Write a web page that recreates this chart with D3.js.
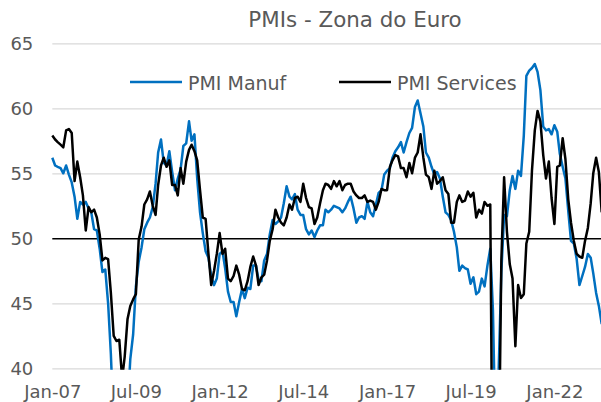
<!DOCTYPE html>
<html>
<head>
<meta charset="utf-8">
<script src="https://cdn.jsdelivr.net/npm/d3@7"></script>
<style>
  body { margin: 0; background: #fff; }
  svg { display: block; }
</style>
</head>
<body>
<div id="chart"></div>
<script>
// monthly values, Jan-2007 .. Jun-2023
const startYear = 2007
const manuf = [
    56.2, 55.6, 55.5, 55.4, 55.0, 55.6, 54.9, 54.3, 53.2, 51.5, 52.8, 52.6,
    52.8, 52.3, 52.0, 50.7, 50.6, 49.2, 47.4, 47.6, 45.0, 41.1, 35.6, 33.9,
    34.4, 33.5, 33.9, 36.8, 40.7, 42.6, 46.3, 48.2, 49.3, 50.7, 51.2, 51.6,
    52.4, 54.2, 56.6, 57.6, 55.8, 55.6, 56.7, 55.1, 53.7, 54.6, 55.3, 57.1,
    57.3, 59.0, 57.5, 58.0, 54.6, 52.0, 50.4, 49.0, 48.5, 47.1, 46.4, 46.9,
    48.8, 49.0, 47.7, 45.9, 45.1, 45.1, 44.0, 45.1, 46.1, 45.4, 46.2, 46.1,
    47.9, 47.9, 46.8, 46.7, 48.3, 48.8, 50.3, 51.4, 51.1, 51.3, 51.6, 52.7,
    54.0, 53.2, 53.0, 53.4, 52.2, 51.8, 51.8, 50.7, 50.3, 50.6, 50.1, 50.6,
    51.0, 51.0, 52.2, 52.0, 52.2, 52.5, 52.4, 52.3, 52.0, 52.3, 52.8, 53.2,
    52.3, 51.2, 51.6, 51.7, 51.5, 52.8, 52.0, 51.7, 52.6, 53.5, 53.7, 54.9,
    55.2, 55.4, 56.2, 56.7, 57.0, 57.4, 56.6, 57.4, 58.1, 58.5, 60.1, 60.6,
    59.6, 58.6, 56.6, 56.2, 55.5, 54.9, 55.1, 54.6, 53.2, 52.0, 51.8, 51.4,
    50.5, 49.3, 47.5, 47.9, 47.7, 47.6, 46.5, 47.0, 45.7, 45.9, 46.9, 46.3,
    47.9, 49.2, 44.5, 33.4, 39.4, 47.4, 51.8, 51.7, 53.7, 54.8, 53.8, 55.2,
    54.8, 57.9, 62.5, 62.9, 63.1, 63.4, 62.8, 61.4, 58.6, 58.3, 58.4, 58.0,
    58.7, 58.2, 56.5, 55.5, 54.6, 52.1, 49.8, 49.6, 48.4, 46.4, 47.1, 47.8,
    48.8, 48.5, 47.3, 45.8, 44.8, 43.4
]
const services = [
    57.9, 57.6, 57.4, 57.2, 57.0, 58.3, 58.4, 58.1, 54.4, 55.9, 54.7, 53.3,
    50.6, 52.4, 52.0, 52.2, 51.6, 50.3, 48.3, 48.5, 48.4, 45.8, 42.5, 42.1,
    42.2, 39.2, 40.9, 43.8, 44.8, 45.3, 45.7, 49.9, 50.9, 52.6, 53.0, 53.6,
    52.5, 51.8, 54.1, 55.6, 56.2, 55.5, 56.0, 54.1, 54.1, 53.3, 55.4, 54.2,
    55.9, 56.8, 57.2, 56.7, 56.0, 53.7, 51.6, 51.5, 48.8, 46.4, 47.5, 48.8,
    50.4, 48.8, 49.2, 46.9, 46.7, 47.1, 47.9, 47.2, 46.1, 46.0, 46.7, 47.8,
    48.6, 47.9, 46.4, 47.0, 47.2, 48.3, 49.8, 50.7, 52.2, 51.6, 51.2, 51.0,
    51.6, 52.6, 52.2, 53.1, 53.2, 52.8, 54.2, 53.1, 52.4, 52.3, 51.1, 51.6,
    52.7, 53.7, 54.2, 54.1, 53.8, 54.4, 54.0, 54.4, 53.7, 54.1, 54.2, 54.2,
    53.6, 53.3, 53.1, 53.1, 53.3, 52.8, 52.9, 52.8, 52.2, 52.8, 53.8, 53.7,
    53.7, 55.5, 56.0, 56.4, 56.3, 55.4, 55.4, 54.7, 55.8, 55.0, 56.2, 56.6,
    58.0, 56.2, 54.9, 54.7, 53.8, 55.2, 54.2, 54.4, 54.7, 53.7, 53.4, 51.2,
    51.2, 52.8, 53.3, 52.8, 52.9, 53.6, 53.2, 53.5, 51.6, 52.2, 51.9, 52.8,
    52.5, 52.6, 26.4, 12.0, 30.5, 48.3, 54.7, 50.5, 48.0, 46.9, 41.7, 46.4,
    45.4, 45.7, 49.6, 50.5, 55.2, 58.3, 59.8, 59.0, 56.4, 54.6, 55.9, 53.1,
    51.1, 55.5, 55.6, 57.7, 56.1, 53.0, 51.2, 49.8, 48.8, 48.6, 48.5, 49.8,
    50.8, 52.7, 55.0, 56.2, 55.1, 52.0
]
const yTicks = [40, 45, 50, 55, 60, 65]
const xTickLabels = ['Jan-07', 'Jul-09', 'Jan-12', 'Jul-14', 'Jan-17', 'Jul-19', 'Jan-22']
const seriesNames = ['PMI Manuf', 'PMI Services']
const seriesColors = ['#0070c0', '#000000']

const width = 601
const height = 402
const plotLeft = 52.3
const plotRight = 601.7
const plotTop = 43.3
const plotBottom = 368.3
const font = "'DejaVu Sans', sans-serif"
const textColor = '#595959'

const dates = manuf.map((d, i) => new Date(startYear, i, 1))
const parseTick = d3.timeParse('%b-%y')
const fmtTick = d3.timeFormat('%b-%y')

const svg = d3.select('#chart')
    .append('svg')
    .attr('width', width)
    .attr('height', height)

svg.append('rect')
    .attr('width', width)
    .attr('height', height)
    .attr('fill', '#fff')

const x = d3.scaleTime()
    .domain([dates[0], dates[dates.length - 1]])
    .range([plotLeft, plotRight])

const y = d3.scaleLinear()
    .domain([40, 65])
    .range([plotBottom, plotTop])

// gridlines + y labels
const yAxis = svg.append('g')
    .attr('transform', `translate(${plotLeft},0)`)
    .call(d3.axisLeft(y)
        .tickValues(yTicks)
        .tickSize(-(width - plotLeft))
        .tickPadding(19))

yAxis.select('.domain').remove()
yAxis.selectAll('line')
    .attr('stroke', d => d === 50 ? '#000' : '#d9d9d9')
    .attr('stroke-width', d => d === 50 ? 1.5 : 1.3)
yAxis.selectAll('text')
    .attr('dy', '0.36em')
    .attr('fill', textColor)
    .attr('font-family', font)
    .attr('font-size', 18)

// x labels
const xAxis = svg.append('g')
    .attr('transform', `translate(0,${plotBottom})`)
    .call(d3.axisBottom(x)
        .tickValues(xTickLabels.map(parseTick))
        .tickFormat(fmtTick)
        .tickSize(0)
        .tickPadding(17.2))

xAxis.select('.domain').remove()
xAxis.selectAll('text')
    .attr('fill', textColor)
    .attr('font-family', font)
    .attr('font-size', 18)

// lines
svg.append('clipPath')
    .attr('id', 'plot-clip')
    .append('rect')
    .attr('x', plotLeft - 2)
    .attr('y', 0)
    .attr('width', width - plotLeft + 2)
    .attr('height', plotBottom + 1.5)

const line = d3.line()
    .x((d, i) => x(dates[i]))
    .y(d => y(d))

const lines = svg.append('g')
    .attr('clip-path', 'url(#plot-clip)')

lines.selectAll('path')
    .data([manuf, services])
    .join('path')
    .attr('d', line)
    .attr('fill', 'none')
    .attr('stroke', (d, i) => seriesColors[i])
    .attr('stroke-width', 2.5)
    .attr('stroke-linejoin', 'round')

// title
svg.append('text')
    .text('PMIs - Zona do Euro')
    .attr('x', 355)
    .attr('y', 27.3)
    .attr('text-anchor', 'middle')
    .attr('fill', textColor)
    .attr('font-family', font)
    .attr('font-size', 21.4)

// legend
const legendX = [130, 339]
const legend = svg.append('g')
    .selectAll('g')
    .data(seriesNames)
    .join('g')
    .attr('transform', (d, i) => `translate(${legendX[i]},82)`)

legend.append('line')
    .attr('x1', 0)
    .attr('x2', 52)
    .attr('stroke', (d, i) => seriesColors[i])
    .attr('stroke-width', 2.5)

legend.append('text')
    .text(d => d)
    .attr('x', 58)
    .attr('y', 8)
    .attr('fill', textColor)
    .attr('font-family', font)
    .attr('font-size', 19)
</script>
</body>
</html>
